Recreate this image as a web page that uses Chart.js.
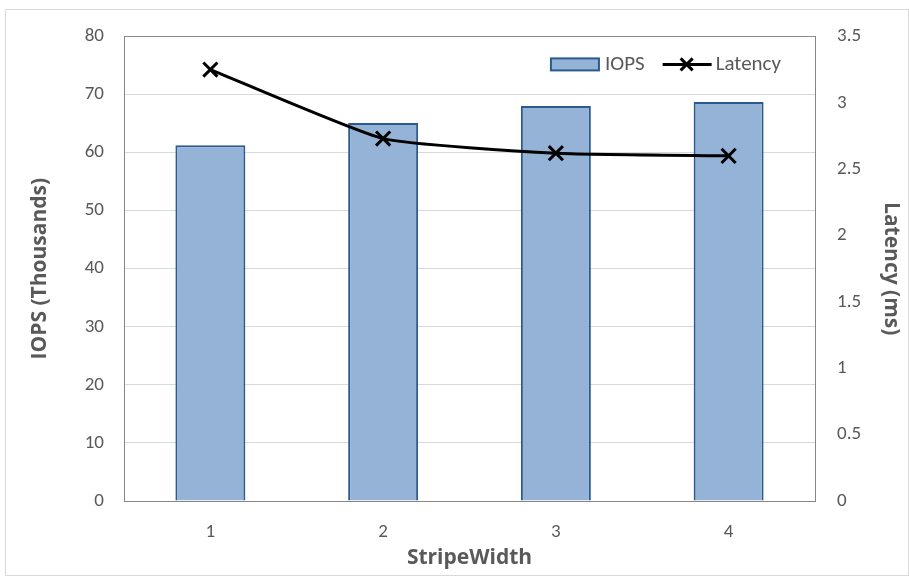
<!DOCTYPE html>
<html>
<head>
<meta charset="utf-8">
<script src="https://cdn.jsdelivr.net/npm/chart.js@4.4.1/dist/chart.umd.min.js"></script>
<style>
  html, body { margin: 0; padding: 0; background: #fff; }
  #frame { position: absolute; left: 5px; top: 9px; width: 902px; height: 565px; border: 1px solid #d9d9d9; }
  #chart { position: absolute; left: 6px; top: 3px; display: block; }
</style>
</head>
<body>
<div id="frame"></div>
<canvas id="chart" width="902" height="572"></canvas>
<script>
// chart data
var stripe_width = ["1", "2", "3", "4"];
var iops_thousands = [61.25, 65.1, 68.0, 68.7];
var latency_ms = [3.25, 2.73, 2.62, 2.6];

var txt = "#595959";
var fnt = "'Carlito', 'Lato', sans-serif";
var tfnt = "'Open Sans', 'Lato', sans-serif";
var barFill = "#95b3d7";
var barEdge = "#2b5a8e";

// legend drawn inside the plot area, top right (like excel)
var insideLegend = {
  id: "insideLegend",
  afterDraw: function (chart) {
    var c = chart.ctx, a = chart.chartArea;
    c.save();
    c.font = "21px " + fnt;
    c.fillStyle = txt;
    c.textBaseline = "middle";
    var w1 = c.measureText("IOPS").width, w2 = c.measureText("Latency").width;
    var total = 48 + 6 + w1 + 18 + 49 + 4 + w2;
    var x = a.right - 34 - total, y = a.top + 28;
    c.fillStyle = barFill;
    c.strokeStyle = barEdge;
    c.lineWidth = 2;
    c.fillRect(x, y - 6, 48, 12);
    c.strokeRect(x, y - 6, 48, 12);
    x += 54;
    c.fillStyle = txt;
    c.fillText("IOPS", x, y);
    x += w1 + 18;
    c.strokeStyle = "#000";
    c.lineWidth = 3;
    c.beginPath();
    c.moveTo(x, y); c.lineTo(x + 49, y);
    c.moveTo(x + 24 - 6, y - 6); c.lineTo(x + 24 + 6, y + 6);
    c.moveTo(x + 24 - 6, y + 6); c.lineTo(x + 24 + 6, y - 6);
    c.stroke();
    x += 53;
    c.fillText("Latency", x, y);
    c.restore();
  }
};

var cfg = {
  data: {
    labels: stripe_width,
    datasets: [
      {
        type: "line",
        label: "Latency",
        data: latency_ms,
        yAxisID: "y2",
        borderColor: "#000",
        backgroundColor: "#000",
        borderWidth: 3,
        pointStyle: "crossRot",
        pointRadius: 10,
        pointBorderWidth: 3,
        tension: 0.15,
        order: 0
      },
      {
        type: "bar",
        label: "IOPS",
        data: iops_thousands,
        yAxisID: "y",
        backgroundColor: barFill,
        borderColor: barEdge,
        borderWidth: 2,
        categoryPercentage: 1,
        barPercentage: 0.405,
        order: 1
      }
    ]
  },
  options: {
    responsive: false,
    animation: false,
    layout: { padding: 0 },
    plugins: {
      tooltip: { enabled: false },
      legend: { display: false }
    },
    scales: {
      x: {
        grid: { display: false, drawTicks: false },
        border: { color: "#868686", width: 1 },
        ticks: { color: txt, font: { family: fnt, size: 19 }, padding: 20 },
        title: { display: true, text: "StripeWidth", color: txt, font: { family: tfnt, size: 21, weight: "bold" }, padding: { top: 2 } },
        afterFit: function (s) { s.height = 74; }
      },
      y: {
        position: "left",
        min: 0, max: 80,
        ticks: { stepSize: 10, color: txt, font: { family: fnt, size: 19 }, padding: 20 },
        grid: {
          drawTicks: false,
          color: function (c) { return c.tick && c.tick.value === 80 ? "#8c8c8c" : "#d9d9d9"; }
        },
        border: { color: "#868686", width: 1 },
        title: { display: true, text: "IOPS (Thousands)", color: txt, font: { family: tfnt, size: 21, weight: "bold" }, padding: { top: 21, bottom: 0 } },
        afterFit: function (s) { s.width = 118; }
      },
      y2: {
        position: "right",
        min: 0, max: 3.5,
        ticks: {
          stepSize: 0.5, color: txt, font: { family: fnt, size: 19 }, padding: 22,
          callback: function (v) { return String(+v.toFixed(1)); }
        },
        grid: { display: false, drawTicks: false },
        border: { color: "#868686", width: 1 },
        title: { display: true, text: "Latency (ms)", color: txt, font: { family: tfnt, size: 21, weight: "bold" } },
        afterFit: function (s) { s.width = 93; }
      }
    }
  },
  plugins: [insideLegend]
};

var ctx = document.getElementById("chart");
var myChart = new Chart(ctx, cfg);
</script>
</body>
</html>
